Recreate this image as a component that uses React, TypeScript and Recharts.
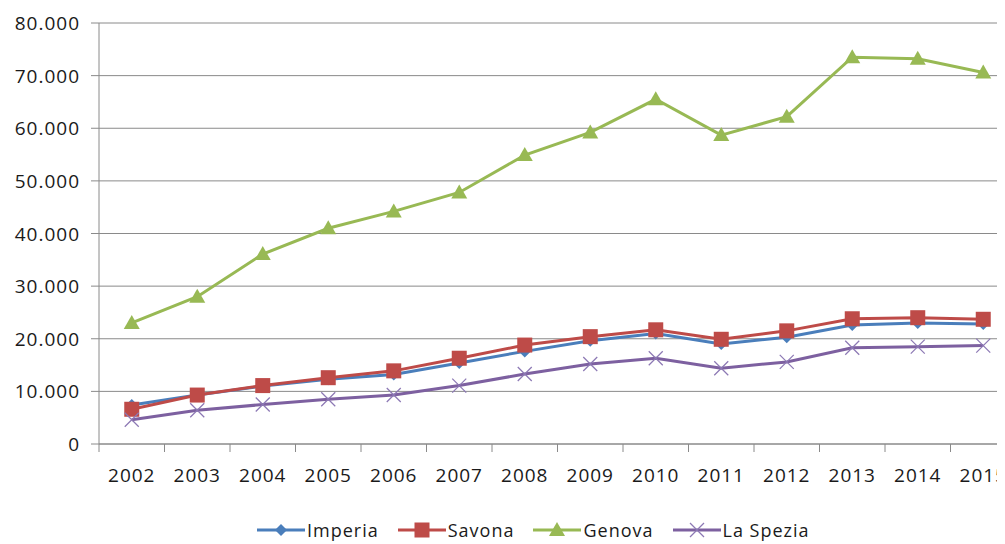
import React from "react";
import { LineChart, Line, XAxis, YAxis, CartesianGrid, Legend } from "recharts";

const years = ["2002","2003","2004","2005","2006","2007","2008","2009","2010","2011","2012","2013","2014","2015"];
const imperia = [7400, 9300, 11000, 12300, 13200, 15400, 17600, 19600, 21000, 19000, 20300, 22600, 23000, 22800];
const savona = [6600, 9300, 11100, 12600, 13900, 16300, 18800, 20400, 21700, 19900, 21500, 23800, 24000, 23700];
const genova = [23000, 28000, 36100, 41000, 44200, 47800, 54900, 59200, 65500, 58700, 62200, 73500, 73200, 70600];
const laSpezia = [4600, 6400, 7500, 8500, 9300, 11100, 13300, 15200, 16300, 14400, 15600, 18300, 18500, 18700];
const yTicks = [0, 10000, 20000, 30000, 40000, 50000, 60000, 70000, 80000];

const seriesNames = ["Imperia", "Savona", "Genova", "La Spezia"];
const colors = { Imperia: "#4A7EBB", Savona: "#BE4B48", Genova: "#98B954", "La Spezia": "#7D60A0" };

const data = years.map((y, i) => ({
  year: y,
  Imperia: imperia[i],
  Savona: savona[i],
  Genova: genova[i],
  "La Spezia": laSpezia[i],
}));

const FONT = "'Open Sans', sans-serif";
const TEXT = "#1a1a1a";
const GRID = "#8a8a8a";

const fmt = (v: number) => String(v).replace(/\B(?=(\d{3})+(?!\d))/g, ".");

function Marker({ name, cx, cy }: { name: string; cx: number; cy: number }) {
  if (cx == null || cy == null) return null;
  if (name === "Imperia") {
    const r = 6;
    return <polygon points={`${cx},${cy - r} ${cx + r},${cy} ${cx},${cy + r} ${cx - r},${cy}`} fill="#4A7EBB" />;
  }
  if (name === "Savona") {
    const s = 7.5;
    return <rect x={cx - s} y={cy - s} width={s * 2} height={s * 2} fill="#BE4B48" />;
  }
  if (name === "Genova") {
    return <polygon points={`${cx},${cy - 8} ${cx + 8},${cy + 6} ${cx - 8},${cy + 6}`} fill="#98B954" />;
  }
  const r = 7;
  return (
    <g stroke="#8C78B4" strokeWidth={1.3}>
      <line x1={cx - r} y1={cy - r} x2={cx + r} y2={cy + r} />
      <line x1={cx - r} y1={cy + r} x2={cx + r} y2={cy - r} />
    </g>
  );
}

const makeDot = (name: string) => (props: any) => (
  <Marker key={`${name}-${props.index}`} name={name} cx={props.cx} cy={props.cy} />
);

const XTick = (props: any) => {
  const { x, y, payload } = props;
  const off = payload && typeof payload.offset === "number" ? payload.offset : 0;
  return (
    <g>
      <line x1={x - off} y1={y} x2={x - off} y2={y + 8} stroke={GRID} strokeWidth={1} />
      <text x={x} y={y + 31} textAnchor="middle" dominantBaseline="central" fill={TEXT}
        fontFamily={FONT} fontSize={19} letterSpacing={1}>{payload.value}</text>
    </g>
  );
};

const YTick = (props: any) => {
  const { x, y, payload } = props;
  return (
    <text x={x} y={y} textAnchor="end" dominantBaseline="central" fill={TEXT}
      fontFamily={FONT} fontSize={19} letterSpacing={1}>{fmt(payload.value)}</text>
  );
};

function LegendIcon({ name }: { name: string }) {
  const c = (colors as any)[name];
  return (
    <svg width={48} height={20} style={{ display: "block" }}>
      <line x1={0} y1={10} x2={48} y2={10} stroke={c} strokeWidth={3} />
      <Marker name={name} cx={24} cy={10} />
    </svg>
  );
}

const LegendContent = () => (
  <div style={{ display: "flex", alignItems: "center", height: 28, paddingLeft: 249, fontFamily: FONT, fontSize: 18, color: TEXT, letterSpacing: 1 }}>
    {seriesNames.map((n) => (
      <div key={n} style={{ display: "flex", alignItems: "center", marginRight: 19 }}>
        <LegendIcon name={n} />
        <span style={{ marginLeft: 2, whiteSpace: "nowrap" }}>{n}</span>
      </div>
    ))}
  </div>
);

export default function App() {
  return (
    <div style={{ width: 997, height: 536, overflow: "hidden", background: "#fff" }}>
      <LineChart width={1030} height={536} data={data} margin={{ top: 15, right: 22, bottom: 0, left: 0 }}>
        <CartesianGrid vertical={false} stroke={GRID} strokeWidth={1} />
        <XAxis dataKey="year" scale="band" axisLine={{ stroke: GRID }} tickLine={false} tickSize={0} tickMargin={0}
          height={72} tick={<XTick />} interval={0} />
        <YAxis domain={[0, 80000]} ticks={yTicks} width={91} axisLine={{ stroke: GRID }}
          tickLine={{ stroke: GRID }} tickSize={8} tickMargin={11} tick={<YTick />} interval={0} />
        <Legend verticalAlign="bottom" height={28} content={<LegendContent />} />
        {seriesNames.map((n) => (
          <Line key={n} type="linear" dataKey={n} stroke={(colors as any)[n]} strokeWidth={3}
            dot={makeDot(n)} activeDot={false} isAnimationActive={false} />
        ))}
      </LineChart>
    </div>
  );
}
